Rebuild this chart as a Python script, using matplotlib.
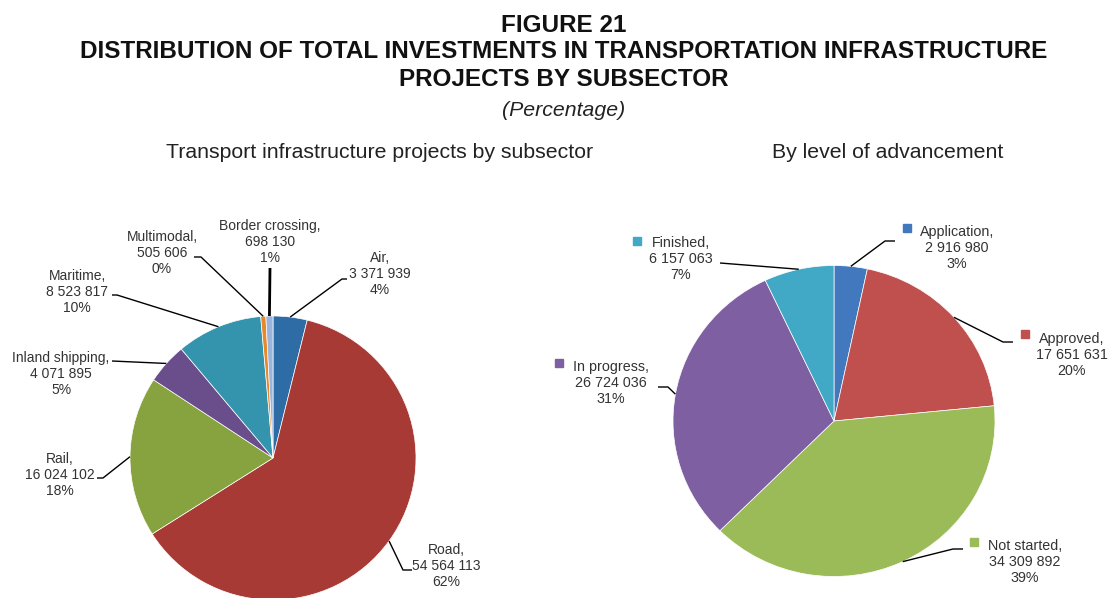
import matplotlib
matplotlib.use("Agg")
import matplotlib.pyplot as plt
import numpy as np

# ---------------- data ----------------
sub_names = ["Air", "Road", "Rail", "Inland shipping", "Maritime", "Multimodal", "Border crossing"]
sub_values = [3371939, 54564113, 16024102, 4071895, 8523817, 505606, 698130]
sub_pct = ["4%", "62%", "18%", "5%", "10%", "0%", "1%"]
sub_colors = ["#2E6CA6", "#A83A36", "#86A340", "#6A4D8B", "#3494AE", "#E5892C", "#9AB4DB"]

adv_names = ["Application", "Approved", "Not started", "In progress", "Finished"]
adv_values = [2916980, 17651631, 34309892, 26724036, 6157063]
adv_pct = ["3%", "20%", "39%", "31%", "7%"]
adv_colors = ["#4178BE", "#C0504D", "#9BBB59", "#7E5FA1", "#41A9C5"]

W, H = 1111, 598
fig = plt.figure(figsize=(W / 100, H / 100), dpi=100)
fig.patch.set_facecolor("white")

ov = fig.add_axes([0, 0, 1, 1], zorder=5)
ov.set_xlim(0, W)
ov.set_ylim(H, 0)
ov.axis("off")
ov.patch.set_alpha(0)

renderer = fig.canvas.get_renderer()


def fit_text(x, y, s, width, **kw):
    t = ov.text(x, y, s, fontsize=12, **kw)
    w = t.get_window_extent(renderer).width
    t.set_fontsize(12 * width / w)
    return t


def fmt(v):
    return f"{v:,}".replace(",", " ")


# ---------------- titles ----------------
tk = dict(family=["Liberation Sans", "DejaVu Sans"], ha="center", va="center", color="#111111")
t2 = fit_text(564, 52, "DISTRIBUTION OF TOTAL INVESTMENTS IN TRANSPORTATION INFRASTRUCTURE", 962,
              fontweight="bold", **tk)
fs = t2.get_fontsize()
ov.text(564, 25, "FIGURE 21", fontsize=fs, fontweight="bold", **tk)
ov.text(564, 80, "PROJECTS BY SUBSECTOR", fontsize=fs, fontweight="bold", **tk)
fit_text(564, 111, "(Percentage)", 123, style="italic", **dict(tk, color="#222222"))
st = fit_text(380, 152, "Transport infrastructure projects by subsector", 427,
              **dict(tk, color="#222222"))
ov.text(888, 152, "By level of advancement", fontsize=st.get_fontsize(),
        **dict(tk, color="#222222"))


# ---------------- pies ----------------
def pie_axes(cx, cy, rx, ry, values, colors):
    ax = fig.add_axes([(cx - rx) / W, (H - (cy + ry)) / H, 2 * rx / W, 2 * ry / H])
    wedges, _ = ax.pie(values, colors=colors, startangle=90, counterclock=False, radius=1,
                       wedgeprops=dict(edgecolor="white", linewidth=0.5))
    ax.set_xlim(-1, 1)
    ax.set_ylim(-1, 1)
    ax.set_aspect("auto")
    ax.axis("off")
    return ax, wedges


def edge_point(ax, w):
    a = np.deg2rad((w.theta1 + w.theta2) / 2)
    disp = ax.transData.transform((np.cos(a), np.sin(a)))
    return ov.transData.inverted().transform(disp)


lab_color = "#333333"

# left pie
axL, wL = pie_axes(273, 458, 143, 142, sub_values, sub_colors)
left_text = [(380, 274), (446, 566), (60, 475), (61, 374), (77, 292), (162, 253), (270, 242)]
left_lead = [[(347, 279), (342, 279)], [(412, 570), (403, 570)], [(97, 478), (103, 478)],
             [(112, 361)], [(112, 295), (117, 295)], [(194, 257), (201, 257)], [(270, 268)]]
for i, w in enumerate(wL):
    tx, ty = left_text[i]
    ov.text(tx, ty, f"{sub_names[i]},\n{fmt(sub_values[i])}\n{sub_pct[i]}", ha="center", va="center",
            fontsize=10, linespacing=1.22, color=lab_color, family=["Liberation Sans", "DejaVu Sans"])
    p = edge_point(axL, w)
    pts = np.array(left_lead[i] + [tuple(p)])
    ov.plot(pts[:, 0], pts[:, 1], color="black", lw=2.0 if i == 6 else 1.0, solid_capstyle="butt")

# right pie
axR, wR = pie_axes(834, 421, 161, 155.5, adv_values, adv_colors)
right_text = [(957, 248), (1072, 355), (1025, 562), (611, 383), (681, 259)]
right_mark = [(907, 228), (1025, 334), (974, 542), (559, 363), (636.5, 241)]
right_lead = [[(895, 241), (885, 241)], [(1013, 342), (1003, 342)], [(963, 549), (953, 549)],
              [(658, 387), (668, 387)], [(720, 263)]]
for i, w in enumerate(wR):
    tx, ty = right_text[i]
    ov.text(tx, ty, f"{adv_names[i]},\n{fmt(adv_values[i])}\n{adv_pct[i]}", ha="center", va="center",
            fontsize=10.3, linespacing=1.2, color=lab_color, family=["Liberation Sans", "DejaVu Sans"])
    mx, my = right_mark[i]
    ov.plot([mx], [my], marker="s", ms=6, color=adv_colors[i], lw=0)
    p = edge_point(axR, w)
    pts = np.array(right_lead[i] + [tuple(p)])
    ov.plot(pts[:, 0], pts[:, 1], color="black", lw=1.0, solid_capstyle="butt")

fig.savefig("out.png", dpi=100, facecolor="white")
